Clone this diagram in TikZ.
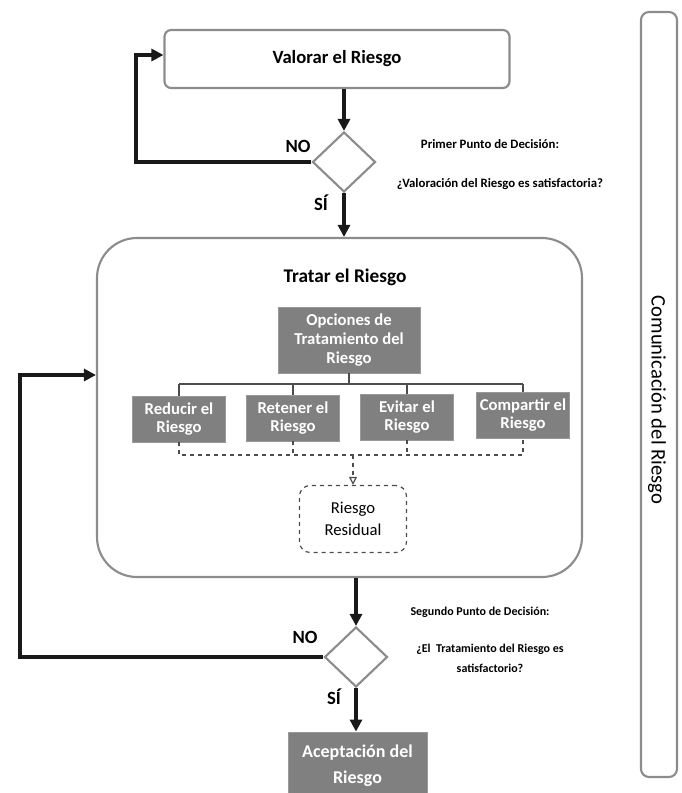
\documentclass[tikz,border=0pt]{standalone}
\usepackage{fontspec}
\setmainfont{Carlito}
\usetikzlibrary{shapes.geometric,arrows.meta}
\tikzset{
  outerbox/.style={draw=black!45, line width=1.6pt, rounded corners=5pt, inner sep=0pt},
  graybox/.style={fill=black!50, draw=black!40, line width=0.6pt, text=white, font=\bfseries\fontsize{12.5}{14}\selectfont, align=center, inner sep=0pt},
  decision/.style={diamond, draw=black!45, line width=1.6pt, minimum width=47.25pt, minimum height=45pt, inner sep=0pt},
  flowarrow/.style={line width=2.6pt, draw=black!90, -{Triangle[length=9pt,width=9pt]}},
  busline/.style={line width=1.3pt, draw=black!70},
  dashline/.style={line width=0.9pt, draw=black!70, dashed},
  yesno/.style={font=\bfseries\fontsize{14}{16}\selectfont},
  note/.style={font=\bfseries\fontsize{9.6}{15}\selectfont, align=center},
}
\begin{document}
\begin{tikzpicture}[x=0.75pt,y=-0.75pt]
\useasboundingbox (0,0) rectangle (682,793);
% main boxes
\node[outerbox, minimum width=258.75pt, minimum height=43.5pt, font=\bfseries\fontsize{14}{16}\selectfont] (valorar) at (337,59) {Valorar el Riesgo};
\node[decision] (d1) at (344,162) {};
\node[outerbox, rounded corners=30pt, minimum width=363.75pt, minimum height=254.25pt] (tratar) at (339.5,407.5) {};
\node[font=\bfseries\fontsize{14.5}{16}\selectfont] (tratartitle) at (345,277) {Tratar el Riesgo};
\node[graybox, minimum width=106.5pt, minimum height=49.5pt] (opciones) at (349,340) {Opciones de\\Tratamiento del\\Riesgo};
\node[graybox, minimum width=69.75pt, minimum height=34.5pt] (reducir) at (179,419) {Reducir el\\Riesgo};
\node[graybox, minimum width=69.75pt, minimum height=34.5pt] (retener) at (293,418) {Retener el\\Riesgo};
\node[graybox, minimum width=69.75pt, minimum height=34.5pt] (evitar) at (407,417) {Evitar el\\Riesgo};
\node[graybox, minimum width=69.75pt, minimum height=34.5pt] (compartir) at (523,415) {Compartir el\\Riesgo};
\node[draw=black!70, dashed, line width=0.9pt, rounded corners=8pt, minimum width=80.25pt, minimum height=50.25pt, align=center, font=\fontsize{12.5}{16.5}\selectfont] (residual) at (353,519) {Riesgo\\Residual};
\node[decision] (d2) at (356,657) {};
\node[graybox, minimum width=104.25pt, minimum height=51pt, font=\bfseries\fontsize{13.5}{19.5}\selectfont] (acept) at (357.5,766) {Aceptación del\\Riesgo};
\node[outerbox, rounded corners=6pt, minimum width=27pt, minimum height=573.75pt] (comm) at (659,394.5) {};
\node[rotate=-90, font=\fontsize{15.5}{17}\selectfont] (commtext) at (657,400) {Comunicación del Riesgo};
% labels
\node[yesno] (no1) at (298,146) {NO};
\node[yesno] (si1) at (321,203) {SÍ};
\node[yesno] (no2) at (305,637) {NO};
\node[yesno] (si2) at (334,697) {SÍ};
\node[note] (n1a) at (490,144) {Primer Punto de Decisión:};
\node[note] (n1b) at (500,184) {¿Valoración del Riesgo es satisfactoria?};
\node[note, font=\bfseries\fontsize{9}{15}\selectfont] (n2a) at (480,612) {Segundo Punto de Decisión:};
\node[note, font=\bfseries\fontsize{9}{15}\selectfont] (n2b) at (490,658) {¿El\ \ Tratamiento del Riesgo es\\satisfactorio?};
% coordinates for loops and buses
\coordinate (l1) at (136,55);
\coordinate (l2) at (20,375);
\coordinate (bus) at (0,384);
\coordinate (dbus) at (0,455);
% flow arrows
\draw[flowarrow] (d1.north |- valorar.south) -- (d1.north);
\draw[flowarrow] (d1.west) -| (l1) -- (l1 -| valorar.west);
\draw[flowarrow] (d1.south) -- (d1.south |- tratar.north);
\draw[flowarrow] (d2.north |- tratar.south) -- (d2.north);
\draw[flowarrow] (d2.west) -| (l2) -- (l2 -| tratar.west);
\draw[flowarrow] (d2.south) -- (d2.south |- acept.north);
% option tree
\draw[busline] (opciones.south) -- (opciones.south |- bus);
\draw[busline] (reducir.north |- bus) -- (compartir.north |- bus);
\draw[busline] (reducir.north |- bus) -- (reducir.north);
\draw[busline] (retener.north |- bus) -- (retener.north);
\draw[busline] (evitar.north |- bus) -- (evitar.north);
\draw[busline] (compartir.north |- bus) -- (compartir.north);
% dashed collector
\draw[dashline] (reducir.south) -- (reducir.south |- dbus) -- (compartir.south |- dbus) -- (compartir.south);
\draw[dashline] (retener.south) -- (retener.south |- dbus);
\draw[dashline] (evitar.south) -- (evitar.south |- dbus);
\draw[dashline, -{Triangle[length=6pt,width=6pt,open]}] (residual.north |- dbus) -- (residual.north);
\end{tikzpicture}
\end{document}
